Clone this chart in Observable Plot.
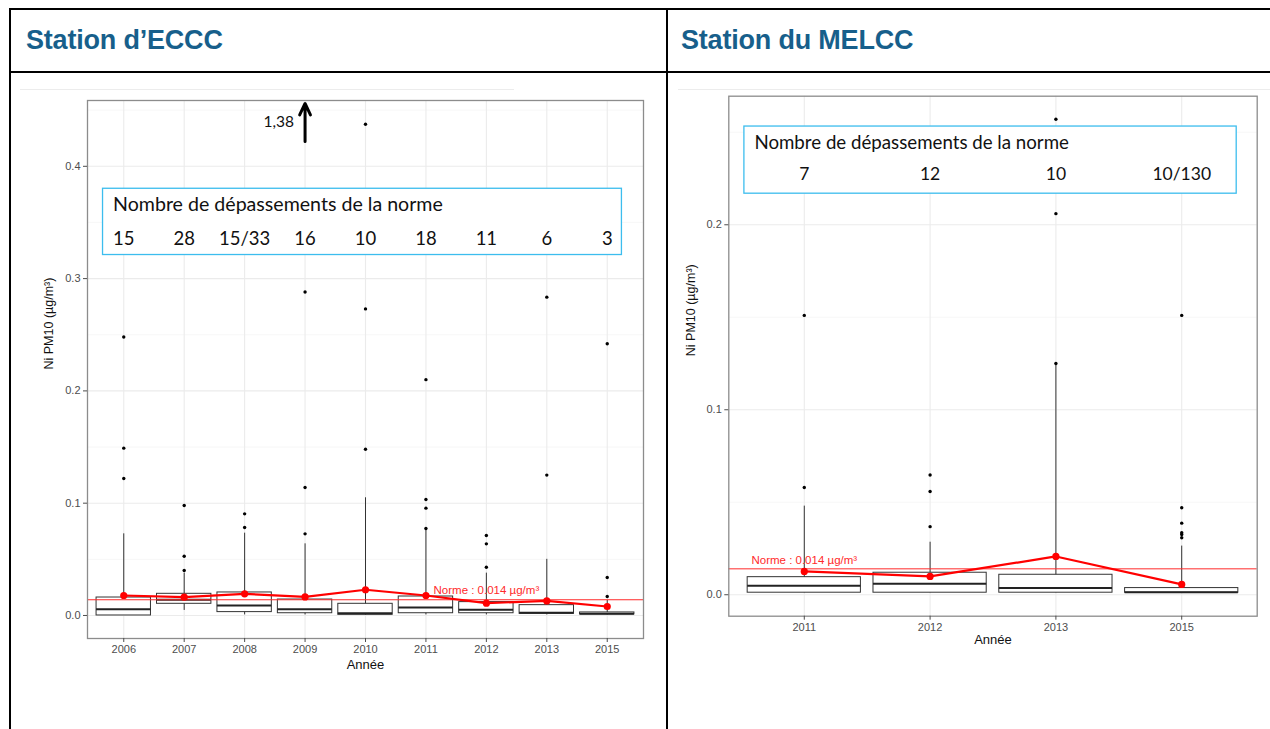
<!DOCTYPE html>
<html><head><meta charset="utf-8">
<script src="https://cdn.jsdelivr.net/npm/d3@7"></script>
<script src="https://cdn.jsdelivr.net/npm/@observablehq/plot@0.6"></script>
<style>
body{margin:0;background:#fff;width:1270px;height:729px;overflow:hidden;position:relative;font-family:"Liberation Sans",Arial,sans-serif}
.bd{position:absolute;background:#000}
.faint{position:absolute;background:#ececec;height:1px}
.title{position:absolute;font-weight:bold;font-size:27px;color:#175f8b;white-space:nowrap;letter-spacing:-0.2px}
.chart{position:absolute}
</style></head><body>
<div class="bd" style="left:9px;top:8px;width:1261px;height:2px"></div>
<div class="bd" style="left:9px;top:8px;width:2px;height:721px"></div>
<div class="bd" style="left:9px;top:71px;width:1261px;height:2px"></div>
<div class="bd" style="left:666px;top:8px;width:2px;height:721px"></div>
<div class="title" style="left:26px;top:25px">Station d’ECCC</div>
<div class="title" style="left:681px;top:25px">Station du MELCC</div>
<div class="faint" style="left:20px;top:89px;width:494px"></div>
<div class="faint" style="left:678px;top:89px;width:592px"></div>
<div id="left" class="chart" style="left:11px;top:80px"></div>
<div id="right" class="chart" style="left:669px;top:80px"></div>
<script>
// ---------- Data: station ECCC ----------
const yearsA   = ["2006","2007","2008","2009","2010","2011","2012","2013","2015"];
const q1A      = [0.0000,0.0104,0.0030,0.0020,0.0006,0.0020,0.0020,0.0015,0.0010];
const medA     = [0.0056,0.0140,0.0089,0.0056,0.0020,0.0071,0.0050,0.0024,0.0015];
const q3A      = [0.0160,0.0193,0.0205,0.0142,0.0104,0.0169,0.0119,0.0092,0.0027];
const loA      = [0.0000,0.0045,0.0005,0.0005,0.0000,0.0005,0.0005,0.0005,0.0005];
const hiA      = [0.0727,0.0377,0.0733,0.0638,0.1048,0.0772,0.0377,0.0500,0.0134];
const meanA    = [0.0178,0.0163,0.0193,0.0165,0.0229,0.0178,0.0110,0.0130,0.0080];
const outA     = [[0.122,0.149,0.248],[0.040,0.0528,0.098],[0.0784,0.0905],[0.0727,0.114,0.288],
                  [0.148,0.273,0.4375],[0.0775,0.0956,0.1033,0.210],[0.043,0.0638,0.0712],[0.125,0.2835],[0.0169,0.0338,0.242]];
const countsA  = ["15","28","15/33","16","10","18","11","6","3"];
const yTicksA  = [0,0.1,0.2,0.3,0.4];
// ---------- Data: station MELCC ----------
const yearsB   = ["2011","2012","2013","2015"];
const q1B      = [0.0011,0.0011,0.0011,0.0011];
const medB     = [0.0049,0.0059,0.0036,0.0014];
const q3B      = [0.0095,0.0119,0.0108,0.0036];
const loB      = [0.0011,0.0011,0.0011,0.0011];
const hiB      = [0.0479,0.0284,0.1240,0.0263];
const meanB    = [0.0126,0.0099,0.0207,0.0056];
const outB     = [[0.058,0.151],[0.0368,0.0558,0.0647],[0.125,0.206,0.257],[0.0308,0.0326,0.0335,0.0387,0.047,0.151]];
const countsB  = ["7","12","10","10/130"];
const yTicksB  = [0,0.1,0.2];
// ---------- Shared ----------
const norme = 0.014;
const normeLabel = "Norme : 0.014 µg/m³";
const boxTitle = "Nombre de dépassements de la norme";
const yLabel = "Ni PM10 (µg/m³)";
const xLabel = "Année";
const depassA = {value: "1,38", year: 3, y1: 0.422, y2: 0.456, labelY: 0.439};

const boxFont = "Lato, 'Open Sans', sans-serif";
const axisFont = "'Liberation Sans', Arial, sans-serif";

function chart(o) {
  const n = o.years.length;
  const idx = d3.range(n);
  const rows = idx.map(i => ({i, q1:o.q1[i], med:o.med[i], q3:o.q3[i], lo:o.lo[i], hi:o.hi[i], mean:o.mean[i]}));
  const outs = idx.flatMap(i => o.out[i].map(v => ({i, v})));
  const step = o.yTicks[1] - o.yTicks[0];
  const minor = o.yTicks.map(t => t + step/2).filter(t => t < o.yDomain[1]);
  const hw = 0.45;
  const marks = [
    Plot.ruleY(minor, {stroke:"#f3f3f3", strokeWidth:0.7}),
    Plot.ruleY(o.yTicks, {stroke:"#ebebeb", strokeWidth:1.1}),
    Plot.ruleX(idx, {stroke:"#ebebeb", strokeWidth:1.1}),
    Plot.ruleX(rows, {x:"i", y1:"lo", y2:"hi", stroke:"#333", strokeWidth:1}),
    Plot.rect(rows, {x1:d=>d.i-hw, x2:d=>d.i+hw, y1:"q1", y2:"q3", fill:"white", stroke:"#333", strokeWidth:1}),
    Plot.ruleY(rows, {x1:d=>d.i-hw, x2:d=>d.i+hw, y:"med", stroke:"#222", strokeWidth:2}),
    Plot.dot(outs, {x:"i", y:"v", r:1.7, fill:"#000", stroke:null}),
    Plot.ruleY([norme], {stroke:"#ff2a2a", strokeWidth:1}),
    Plot.text([normeLabel], {x:o.normeAt, y:norme, text:d=>d, fill:"#ff2a2a", fontSize:11.5, dy:-9, fontFamily:axisFont}),
    Plot.line(rows, {x:"i", y:"mean", stroke:"#ff0000", strokeWidth:2.2}),
    Plot.dot(rows, {x:"i", y:"mean", r:3.6, fill:"#ff0000", stroke:null}),
    Plot.rect([o.box], {x1:"x1", x2:"x2", y1:"y1", y2:"y2", fill:"white", stroke:"#3cbdee", strokeWidth:1.3}),
    Plot.text([boxTitle], {x:o.box.x1, y:o.box.titleY, text:d=>d, textAnchor:"start", dx:10, fontSize:o.titleSize, fontFamily:boxFont, fill:"#111"}),
    Plot.text(o.counts, {x:(d,i)=>i, y:o.box.countY, text:d=>d, fontSize:o.countSize, fontFamily:boxFont, fill:"#111"}),
    Plot.frame({stroke:"#8c8c8c", strokeWidth:1.3}),
    Plot.axisX({ticks:idx, tickFormat:i=>o.years[i], tickSize:4, tickPadding:3, fontSize:11, color:"#4d4d4d", label:null, fontFamily:axisFont}),
    Plot.axisY({ticks:o.yTicks, tickFormat:d3.format(".1f"), tickSize:4, tickPadding:3, fontSize:11, color:"#4d4d4d", label:null, fontFamily:axisFont}),
    Plot.text([xLabel], {frameAnchor:"bottom", text:d=>d, dy:o.xLabelDy, fontSize:13, fill:"#111", fontFamily:axisFont}),
    Plot.text([yLabel], {frameAnchor:"left", text:d=>d, rotate:-90, dx:o.yLabelDx, fontSize:12.5, fill:"#111", fontFamily:axisFont})
  ];
  if (o.arrow) {
    marks.push(Plot.arrow([o.arrow], {x:"year", y1:"y1", y2:"y2", stroke:"#000", strokeWidth:3, headLength:9, headAngle:50}));
    marks.push(Plot.text([o.arrow], {x:"year", y:"labelY", text:"value", textAnchor:"end", dx:-11, fontSize:15.5, fontFamily:boxFont, fill:"#111"}));
  }
  return Plot.plot({
    width:o.width, height:o.height,
    marginLeft:o.m[3], marginRight:o.m[1], marginTop:o.m[0], marginBottom:o.m[2],
    x:{type:"linear", domain:[-0.6, n-0.4], axis:null},
    y:{type:"linear", domain:o.yDomain, axis:null},
    style:{background:"transparent", overflow:"visible"},
    marks
  });
}

document.getElementById("left").append(chart({
  years:yearsA, q1:q1A, med:medA, q3:q3A, lo:loA, hi:hiA, mean:meanA, out:outA, counts:countsA, yTicks:yTicksA,
  yDomain:[-0.0205, 0.4586], width:654, height:645, m:[20,22,87,76],
  normeAt:6, box:{x1:-0.343, x2:8.243, y1:0.321, y2:0.380, titleY:0.366, countY:0.335},
  titleSize:19.6, countSize:18.5, xLabelDy:30, yLabelDx:-39, arrow:depassA
}));
document.getElementById("right").append(chart({
  years:yearsB, q1:q1B, med:medB, q3:q3B, lo:loB, hi:hiB, mean:meanB, out:outB, counts:countsB, yTicks:yTicksB,
  yDomain:[-0.0116, 0.2695], width:600, height:645, m:[15.7,12.3,109.3,59.3],
  normeAt:0, box:{x1:-0.476, x2:3.437, y1:0.2168, y2:0.2531, titleY:0.244, countY:0.227},
  titleSize:18.7, countSize:17.5, xLabelDy:28, yLabelDx:-38, arrow:null
}));
</script>
</body></html>
